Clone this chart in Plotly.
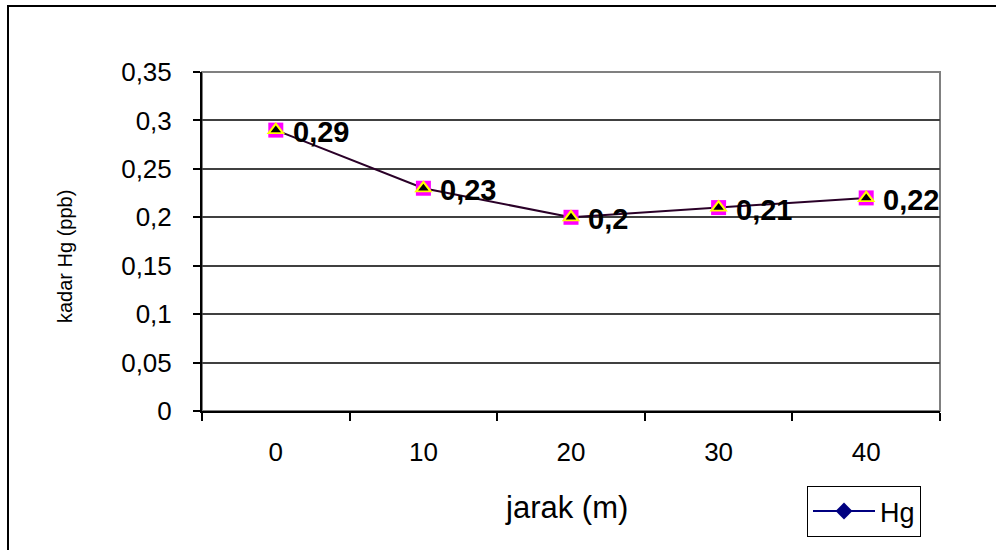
import plotly.graph_objects as go

# Jarak dari sumber (m) dan kadar Hg (ppb)
jarak = ["0", "10", "20", "30", "40"]
kadar_hg = [0.29, 0.23, 0.20, 0.21, 0.22]
label_nilai = ["0,29", "0,23", "0,2", "0,21", "0,22"]
y_ticks = [0, 0.05, 0.10, 0.15, 0.20, 0.25, 0.30, 0.35]

W, H = 996, 550
L, R, T, B = 202, 56, 72, 139
pw, ph = W - L - R, H - T - B
FONT = "Liberation Sans, Arial"

fig = go.Figure()

# garis data
fig.add_trace(go.Scatter(
    x=jarak, y=kadar_hg, mode="lines",
    line=dict(color="#2a0028", width=2), showlegend=False, hoverinfo="skip",
))
# penanda bertingkat: kotak magenta, segitiga kuning, segitiga hitam
fig.add_trace(go.Scatter(
    x=jarak, y=kadar_hg, mode="markers",
    marker=dict(symbol="square", size=15, color="#ff00ff", line=dict(width=0)),
    showlegend=False, hoverinfo="skip",
))
fig.add_trace(go.Scatter(
    x=jarak, y=kadar_hg, mode="markers",
    marker=dict(symbol="triangle-up", size=16, color="#ffff00", line=dict(width=0)),
    showlegend=False, hoverinfo="skip",
))
fig.add_trace(go.Scatter(
    x=jarak, y=kadar_hg, mode="markers",
    marker=dict(symbol="triangle-up", size=9, color="#000000", line=dict(width=0)),
    showlegend=False, hoverinfo="skip",
))
# entri legenda
fig.add_trace(go.Scatter(
    x=[None], y=[None], mode="lines+markers", name="Hg",
    line=dict(color="#000080", width=2),
    marker=dict(symbol="diamond", size=13, color="#000080"),
))

# label nilai (posisi x memakai indeks kategori)
for i, (yv, txt) in enumerate(zip(kadar_hg, label_nilai)):
    fig.add_annotation(
        x=i, y=yv, text=f"<b>{txt}</b>", showarrow=False,
        xanchor="left", yanchor="middle", xshift=15, yshift=-2,
        font=dict(family=FONT, size=29, color="#000000"),
    )

# judul sumbu
fig.add_annotation(
    x=(566 - L) / pw, y=-(507 - T - ph) / ph, xref="paper", yref="paper",
    text="jarak (m)", showarrow=False, xanchor="center", yanchor="middle",
    font=dict(family=FONT, size=31, color="#000000"),
)
fig.add_annotation(
    x=(65 - L) / pw, y=(H - B - 257) / ph, xref="paper", yref="paper",
    text="kadar Hg (ppb)", showarrow=False, textangle=-90,
    xanchor="center", yanchor="middle",
    font=dict(family=FONT, size=20, color="#000000"),
)

# bingkai area plot (abu-abu) dan bingkai luar (hitam)
fig.add_shape(type="rect", xref="paper", yref="paper", x0=0, x1=1, y0=0, y1=1,
              line=dict(color="#808080", width=2), layer="below")
fig.add_shape(type="rect", xref="paper", yref="paper",
              x0=(8 - L) / pw, x1=(1010 - L) / pw,
              y0=-(B + 20) / ph, y1=1 + (T - 6) / ph,
              line=dict(color="#000000", width=2))

fig.update_layout(
    width=W, height=H,
    margin=dict(l=L, r=R, t=T, b=B, pad=0),
    paper_bgcolor="#ffffff", plot_bgcolor="#ffffff",
    separators=",.",
    font=dict(family=FONT, size=26, color="#000000"),
    showlegend=True,
    legend=dict(
        x=(807 - L) / pw, y=-(486 - T - ph) / ph, xanchor="left", yanchor="top",
        bordercolor="#000000", borderwidth=1, bgcolor="#ffffff",
        font=dict(family=FONT, size=27), itemwidth=62,
        tracegroupgap=0,
    ),
    xaxis=dict(
        type="category", categoryorder="array", categoryarray=jarak,
        range=[-0.5, 4.5], tickson="boundaries",
        ticks="outside", ticklen=8, tickwidth=1.5, tickcolor="#000000",
        showline=True, linecolor="#000000", linewidth=2,
        showgrid=False, zeroline=False,
        tickfont=dict(family=FONT, size=26), ticklabelstandoff=17,
    ),
    yaxis=dict(
        range=[0, 0.35], tickvals=y_ticks,
        ticks="outside", ticklen=7, tickwidth=1.5, tickcolor="#000000",
        showline=True, linecolor="#000000", linewidth=2,
        showgrid=True, gridcolor="#404040", gridwidth=1.5,
        zeroline=False, tickfont=dict(family=FONT, size=26), ticklabelstandoff=16,
    ),
)

fig.write_html("out.html")
